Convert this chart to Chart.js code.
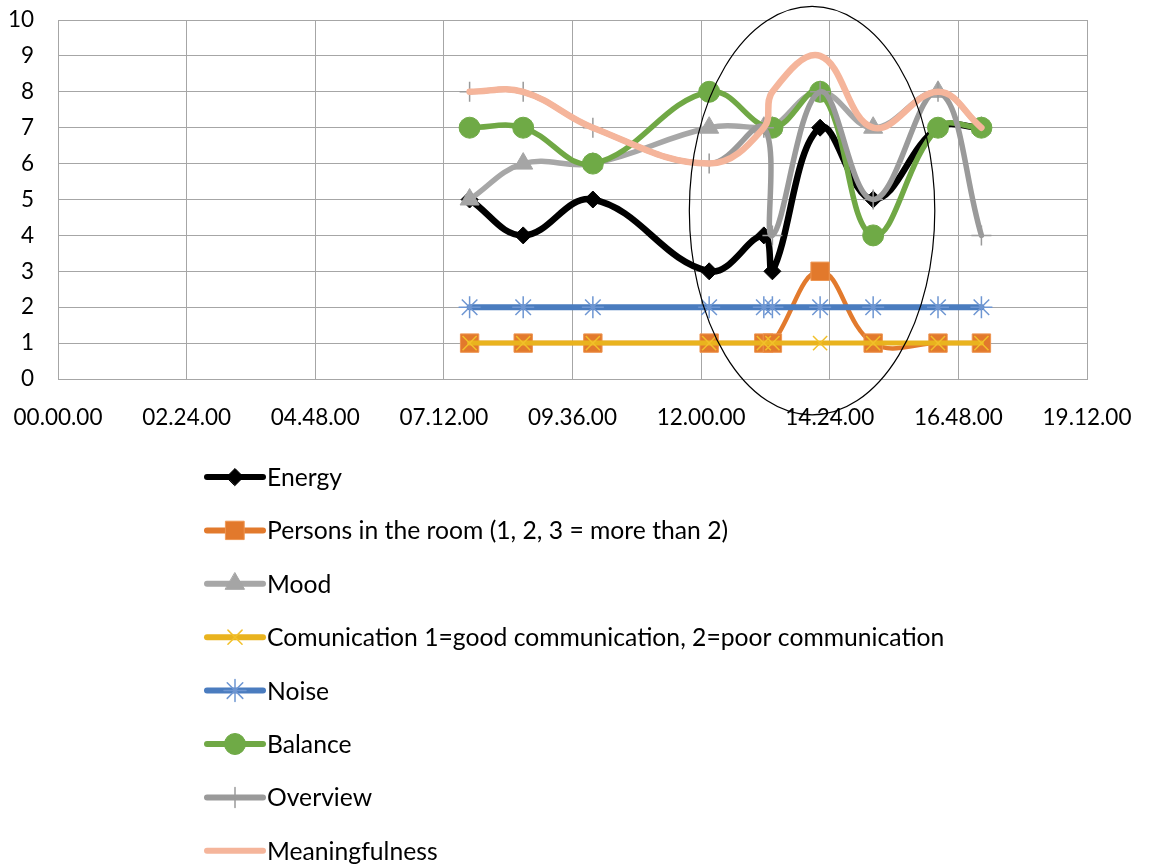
<!DOCTYPE html>
<html><head><meta charset="utf-8">
<script src="https://cdn.jsdelivr.net/npm/chart.js@4"></script>
<style>html,body{margin:0;padding:0;background:#fff}#wrap{width:1149px;height:866px}</style>
</head><body><div id="wrap"><canvas id="c" width="1149" height="866"></canvas></div>
<script>
// ---- data (time in hours of the day) ----
const times          = [7.68, 8.68, 9.98, 12.15, 13.17, 13.33, 14.22, 15.21, 16.42, 17.23];
const energy         = [5, 4, 5, 3, 4, 3, 7, 5, 7, 7];
const persons        = [1, 1, 1, 1, 1, 1, 3, 1, 1, 1];
const mood           = [5, 6, 6, 7, 7, 7, 8, 7, 8, 7];
const communication  = [1, 1, 1, 1, 1, 1, 1, 1, 1, 1];
const noise          = [2, 2, 2, 2, 2, 2, 2, 2, 2, 2];
const balance        = [7, 7, 6, 8, null, 7, 8, 4, 7, 7];
const overview       = [8, 8, 7, 6, 7, 4, 8, 5, 8, 4];
const meaningfulness = [8, 8, 7, 6, 7, 8, 9, 7, 8, 7];
const seriesNames = ["Energy","Persons in the room (1, 2, 3 = more than 2)","Mood",
  "Comunication 1=good communication, 2=poor communication","Noise","Balance","Overview","Meaningfulness"];
const xTickValues = [0, 2.4, 4.8, 7.2, 9.6, 12, 14.4, 16.8, 19.2];
const xTickLabels = ["00.00.00","02.24.00","04.48.00","07.12.00","09.36.00","12.00.00","14.24.00","16.48.00","19.12.00"];
const yTicks = [0,1,2,3,4,5,6,7,8,9,10];
// highlighted region (ellipse) in data units: centre time, centre value, half-width (h), half-height
const highlight = {cx: 14.07, cy: 4.69, rx: 2.29, ry: 5.69};

const FONT = "Lato";
const pts = vals => times.map((t,i)=>({x:t, y:vals[i]})).filter(p=>p.y!==null);

const styles = [
  {data:energy, color:'#000000', width:6.5, style:'rectRot', r:8.5, bg:'#000000', bc:'#000000', bw:1},
  {data:persons, color:'#E27A2D', width:4.5, style:'rect', r:13, bg:'#E2792C', bc:'#EE9550', bw:1},
  {data:mood, color:'#A7A7A7', width:5.5, style:'triangle', r:11, bg:'#A5A5A5', bc:'#A5A5A5', bw:1},
  {data:communication, color:'#E9B31E', width:5, style:'crossRot', r:10, bg:'#F2C02A', bc:'#F2C02A', bw:1.5},
  {data:noise, color:'#4A7CBF', width:6, style:'star', r:11, bg:'#6E96D2', bc:'#6E96D2', bw:1.5},
  {data:balance, color:'#70A845', width:5.5, style:'circle', r:10.5, bg:'#6FAA46', bc:'#6FAA46', bw:1},
  {data:overview, color:'#9A9A9A', width:5.5, style:'cross', r:10, bg:'#9A9A9A', bc:'#9A9A9A', bw:1.5},
  {data:meaningfulness, color:'#F5B59B', width:6.5, style:'circle', r:0, bg:'#F5B59B', bc:'#F5B59B', bw:0}
];
const n = styles.length;
const datasets = styles.map((s,i)=>({
  label: seriesNames[i],
  data: pts(s.data),
  borderColor: s.color, borderWidth: s.width, borderCapStyle:'round', borderJoinStyle:'round',
  pointStyle: s.style, pointRadius: s.r, pointBackgroundColor: s.bg, pointBorderColor: s.bc,
  pointBorderWidth: s.bw, pointHoverRadius: s.r,
  tension: 0.4, fill:false, spanGaps:true, showLine:true,
  order: n-1-i
}));

const drawMarker = (ctx, s, x, y) => {
  if (!s.r) return;
  ctx.save();
  ctx.fillStyle = s.bg; ctx.strokeStyle = s.bc; ctx.lineWidth = s.bw;
  if (Chart.helpers && Chart.helpers.drawPoint) {
    Chart.helpers.drawPoint(ctx, {pointStyle:s.style, radius:s.r, rotation:0, borderWidth:s.bw}, x, y);
  } else {
    ctx.beginPath(); ctx.arc(x,y,s.r,0,Math.PI*2); ctx.fill();
  }
  ctx.restore();
};

const extras = {
  id:'extras',
  afterDraw(chart){
    const ctx = chart.ctx, xs = chart.scales.x, ys = chart.scales.y, ca = chart.chartArea;
    // ellipse annotation
    const cx = xs.getPixelForValue(highlight.cx), cy = ys.getPixelForValue(highlight.cy);
    const rx = Math.abs(xs.getPixelForValue(highlight.cx+highlight.rx)-cx);
    const ry = Math.abs(ys.getPixelForValue(highlight.cy+highlight.ry)-cy);
    ctx.save();
    ctx.beginPath(); ctx.ellipse(cx, cy, rx, ry, 0, 0, Math.PI*2);
    ctx.strokeStyle = '#000'; ctx.lineWidth = 1.2; ctx.stroke();
    ctx.restore();
    // legend
    const top = ca.bottom + 98, step = 53.4, x0 = 207, x1 = 263;
    ctx.save();
    ctx.font = `24.7px ${FONT}`; ctx.fillStyle = '#000'; ctx.textBaseline = 'middle'; ctx.textAlign='left';
    styles.forEach((s,i)=>{
      const y = top + i*step;
      ctx.beginPath(); ctx.moveTo(x0,y); ctx.lineTo(x1,y);
      ctx.strokeStyle = s.color; ctx.lineWidth = 6; ctx.lineCap='round'; ctx.stroke();
      drawMarker(ctx, s, (x0+x1)/2, y);
      ctx.fillStyle = '#000';
      ctx.fillText(seriesNames[i], 267, y+1);
    });
    ctx.restore();
  }
};

new Chart(document.getElementById('c'), {
  type:'line',
  data:{datasets},
  plugins:[extras],
  options:{
    responsive:false, animation:false, devicePixelRatio:1,
    layout:{padding:{top:20, right:62, left:0, bottom:0}},
    plugins:{legend:{display:false}, tooltip:{enabled:false}},
    elements:{line:{cubicInterpolationMode:'default'}},
    scales:{
      x:{type:'linear', min:0, max:19.2,
        afterBuildTicks: s => { s.ticks = xTickValues.map(v=>({value:v})); },
        afterFit: s => { s.height = 866 - 379; s.paddingLeft = 0; s.paddingRight = 0; },
        ticks:{callback:(v,i)=>xTickLabels[i], color:'#000', font:{family:FONT, size:22.5}, padding:25, maxRotation:0, autoSkip:false},
        grid:{color:'#A6A6A6', lineWidth:1, drawTicks:false},
        border:{color:'#A6A6A6'}
      },
      y:{min:0, max:10,
        afterBuildTicks: s => { s.ticks = yTicks.map(v=>({value:v})); },
        afterFit: s => { s.width = 58; s.paddingTop = 0; s.paddingBottom = 0; },
        ticks:{color:'#000', font:{family:FONT, size:22.5}, padding:24},
        grid:{color:'#A6A6A6', lineWidth:1, drawTicks:false},
        border:{color:'#A6A6A6'}
      }
    }
  }
});
</script></body></html>
